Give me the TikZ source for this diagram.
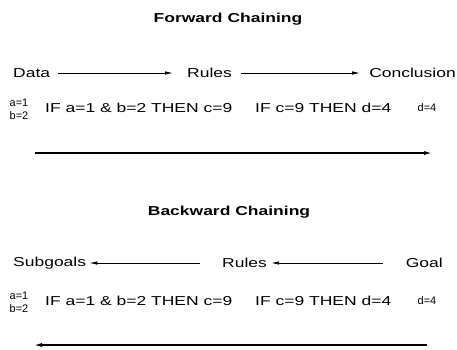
\documentclass[tikz,border=0pt]{standalone}
\usepackage{fontspec}
\setmainfont{Liberation Sans}[FakeStretch=1.35]
\newfontfamily\plainfont{Liberation Sans}
\usetikzlibrary{arrows.meta}

\begin{document}
\begin{tikzpicture}[x=1bp,y=-1bp,
  lbl/.style={inner sep=0pt, font=\fontsize{13}{13}\selectfont},
  ttl/.style={inner sep=0pt, font=\fontsize{13}{13}\selectfont\bfseries},
  val/.style={inner sep=0pt, font=\plainfont\fontsize{11}{11}\selectfont},
  flow/.style={line width=0.8bp, -{Latex[length=8bp,width=3.5bp]}},
  span/.style={line width=1.6bp, -{Latex[length=9bp,width=4bp]}}]
\useasboundingbox (0,0) rectangle (457,349);

% ---------- forward chaining ----------
\node[ttl] (ftitle) at (228,19) {Forward Chaining};

\node[lbl, anchor=west] (fdata)  at (13,73)  {Data};
\node[lbl, anchor=west] (frules) at (187,73) {Rules};
\node[lbl, anchor=east] (fconc)  at (456,73) {Conclusion};
\draw[flow, shorten <=8bp, shorten >=14bp] (fdata.east) -- (frules.west);
\draw[flow, shorten <=9bp, shorten >=9bp] (frules.east) -- (fconc.west);

\node[val] (fa) at (19,103) {a=1};
\node[val] (fb) at (19,116) {b=2};
\node[lbl, anchor=west] (frule1) at (45,108)  {IF a=1 \& b=2 THEN c=9};
\node[lbl, anchor=west] (frule2) at (255,108) {IF c=9 THEN d=4};
\node[val] (fd) at (427,108) {d=4};

\coordinate (fstart) at (35,153);
\coordinate (fend)   at (433,153);
\draw[span] (fstart) -- (fend);

% ---------- backward chaining ----------
\node[ttl] (btitle) at (229,212) {Backward Chaining};

\node[lbl, anchor=west] (bsub)   at (13,263)  {Subgoals};
\node[lbl, anchor=west] (brules) at (222,263) {Rules};
\node[lbl, anchor=east] (bgoal)  at (443,263) {Goal};
\draw[flow, shorten <=22bp, shorten >=3bp] (brules.west) -- (bsub.east);
\draw[flow, shorten <=23bp, shorten >=4bp] (bgoal.west) -- (brules.east);

\node[val] (ba) at (19,296) {a=1};
\node[val] (bb) at (19,309) {b=2};
\node[lbl, anchor=west] (brule1) at (45,301)  {IF a=1 \& b=2 THEN c=9};
\node[lbl, anchor=west] (brule2) at (255,301) {IF c=9 THEN d=4};
\node[val] (bd) at (427,301) {d=4};

\coordinate (bstart) at (427,345);
\coordinate (bend)   at (33,345);
\draw[span] (bstart) -- (bend);
\end{tikzpicture}
\end{document}
